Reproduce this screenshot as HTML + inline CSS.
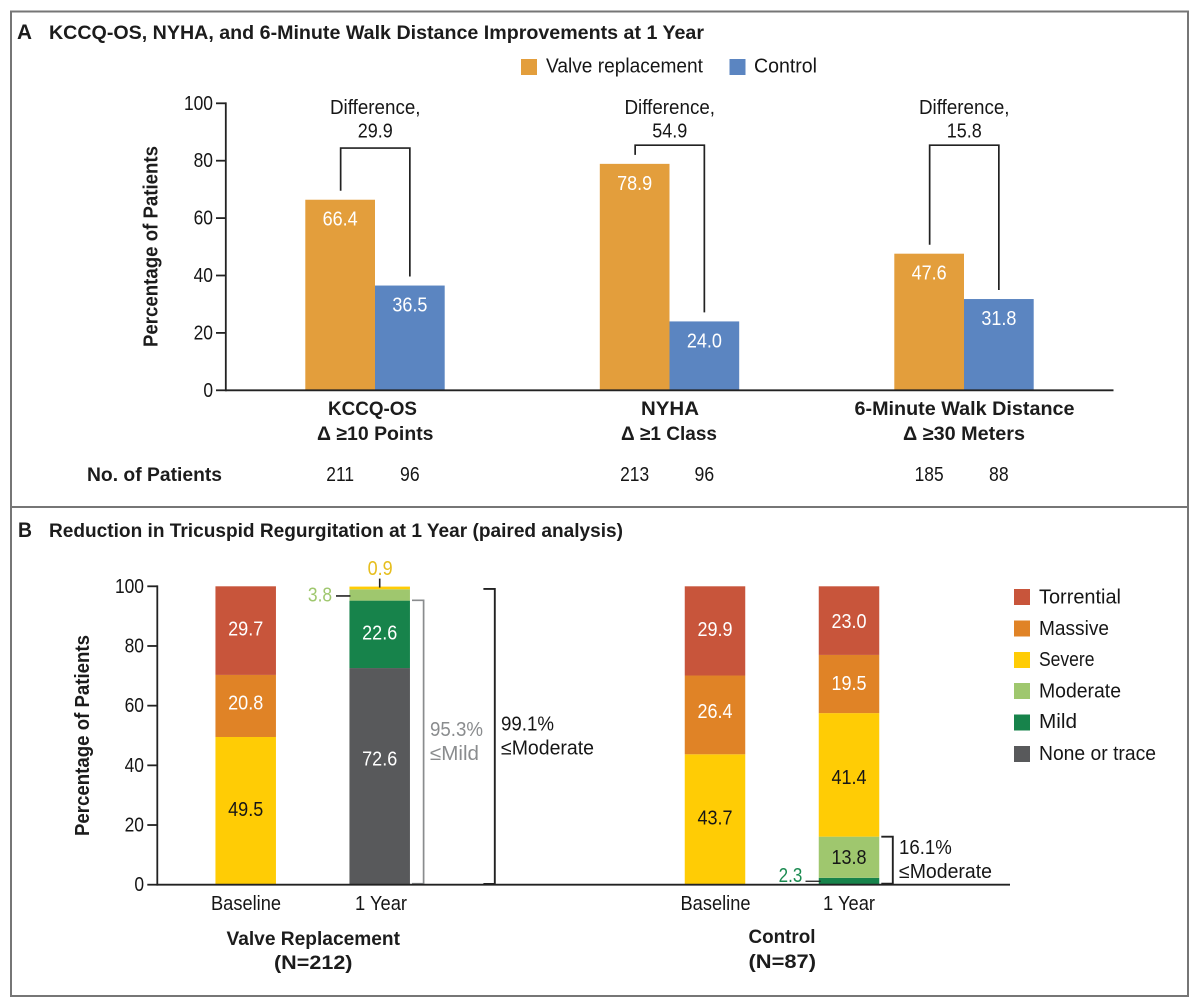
<!DOCTYPE html>
<html lang="en">
<head>
<meta charset="utf-8">
<title>KCCQ-OS, NYHA, 6-Minute Walk Distance and Tricuspid Regurgitation at 1 Year</title>
<style>
html,body{margin:0;padding:0;background:#fff;}
svg{display:block;}
text{font-family:"Liberation Sans","DejaVu Sans",sans-serif;font-size:20px;fill:#161616;}
.b{font-weight:bold;font-size:19.5px;fill:#1c1c1c;}
.yt{font-size:20.5px;}
</style>
</head>
<body>
<svg id="fig" xmlns="http://www.w3.org/2000/svg" width="1200" height="1007" viewBox="0 0 1200 1007">
  <rect x="0" y="0" width="1200" height="1007" fill="#fff"/>
  <rect x="11" y="11.5" width="1177" height="984.5" fill="none" stroke="#767676" stroke-width="2"/>
  <line x1="11" x2="1188" y1="507" y2="507" stroke="#767676" stroke-width="2"/>

  <!-- Panel A static text -->
  <text class="b" x="17" y="39" style="font-size:21px" textLength="15" lengthAdjust="spacingAndGlyphs">A</text>
  <text class="b" x="49" y="39" textLength="655" lengthAdjust="spacingAndGlyphs">KCCQ-OS, NYHA, and 6-Minute Walk Distance Improvements at 1 Year</text>
  <g>
    <rect x="521" y="59" width="16" height="16" fill="#E39E3C"/>
    <text x="546" y="72.5" textLength="157" lengthAdjust="spacingAndGlyphs">Valve replacement</text>
    <rect x="729.5" y="59" width="16" height="16" fill="#5B85C1"/>
    <text x="754" y="72.5" textLength="63" lengthAdjust="spacingAndGlyphs">Control</text>
  </g>
  <text class="b yt" transform="translate(157.5,347) rotate(-90)" x="0" y="0" textLength="201" lengthAdjust="spacingAndGlyphs">Percentage of Patients</text>
  <text class="b" x="328" y="415" textLength="89" lengthAdjust="spacingAndGlyphs">KCCQ-OS</text>
  <text class="b" x="317" y="440" textLength="116.5" lengthAdjust="spacingAndGlyphs">Δ ≥10 Points</text>
  <text class="b" x="641" y="415" textLength="58" lengthAdjust="spacingAndGlyphs">NYHA</text>
  <text class="b" x="621" y="440" textLength="96" lengthAdjust="spacingAndGlyphs">Δ ≥1 Class</text>
  <text class="b" x="854.5" y="415" textLength="220" lengthAdjust="spacingAndGlyphs">6-Minute Walk Distance</text>
  <text class="b" x="903" y="440" textLength="122" lengthAdjust="spacingAndGlyphs">Δ ≥30 Meters</text>
  <text class="b" x="87" y="481" textLength="135" lengthAdjust="spacingAndGlyphs">No. of Patients</text>

  <!-- Panel B static text -->
  <text class="b" x="18" y="537" style="font-size:21px" textLength="14" lengthAdjust="spacingAndGlyphs">B</text>
  <text class="b" x="49" y="537" textLength="574" lengthAdjust="spacingAndGlyphs">Reduction in Tricuspid Regurgitation at 1 Year (paired analysis)</text>
  <text class="b yt" transform="translate(89,836) rotate(-90)" x="0" y="0" textLength="201" lengthAdjust="spacingAndGlyphs">Percentage of Patients</text>
  <text x="211" y="910" textLength="70" lengthAdjust="spacingAndGlyphs">Baseline</text>
  <text x="355" y="910" textLength="52" lengthAdjust="spacingAndGlyphs">1 Year</text>
  <text x="680.5" y="910" textLength="70" lengthAdjust="spacingAndGlyphs">Baseline</text>
  <text x="823" y="910" textLength="52" lengthAdjust="spacingAndGlyphs">1 Year</text>
  <text class="b" x="226.5" y="945" textLength="173.5" lengthAdjust="spacingAndGlyphs">Valve Replacement</text>
  <text class="b" x="274" y="969" textLength="78.5" lengthAdjust="spacingAndGlyphs">(N=212)</text>
  <text class="b" x="748.5" y="943" textLength="67" lengthAdjust="spacingAndGlyphs">Control</text>
  <text class="b" x="748.5" y="968" textLength="67.5" lengthAdjust="spacingAndGlyphs">(N=87)</text>

  <g>
    <rect x="1014" y="589" width="16" height="16" fill="#C8553B"/>
    <text x="1039" y="603.5" textLength="82" lengthAdjust="spacingAndGlyphs">Torrential</text>
    <rect x="1014" y="620.5" width="16" height="16" fill="#E08326"/>
    <text x="1039" y="635" textLength="70" lengthAdjust="spacingAndGlyphs">Massive</text>
    <rect x="1014" y="652" width="16" height="16" fill="#FFCC05"/>
    <text x="1039" y="666" textLength="55.5" lengthAdjust="spacingAndGlyphs">Severe</text>
    <rect x="1014" y="683" width="16" height="16" fill="#9FC76E"/>
    <text x="1039" y="697.5" textLength="82" lengthAdjust="spacingAndGlyphs">Moderate</text>
    <rect x="1014" y="714.5" width="16" height="16" fill="#17834B"/>
    <text x="1039" y="728" textLength="38" lengthAdjust="spacingAndGlyphs">Mild</text>
    <rect x="1014" y="746" width="16" height="16" fill="#58595B"/>
    <text x="1039" y="760" textLength="117" lengthAdjust="spacingAndGlyphs">None or trace</text>
  </g>
  <g id="chartA"></g>
  <g id="chartB"></g>
</svg>
<script>
// Panel A data
const categories = ['kccq-os', 'nyha', 'walk-distance'];
const valveValues = [66.4, 78.9, 47.6];
const controlValues = [36.5, 24.0, 31.8];
const differences = [29.9, 54.9, 15.8];
const bracketLevels = [84.4, 85.4, 85.4];
const valvePatients = [211, 213, 185];
const controlPatients = [96, 96, 88];
const yTicks = [0, 20, 40, 60, 80, 100];

// Panel B data
const severityNames = ['none-or-trace', 'mild', 'moderate', 'severe', 'massive', 'torrential'];
const barNames = ['valve-baseline', 'valve-1-year', 'control-baseline', 'control-1-year'];
const noneOrTrace = [0, 72.6, 0, 0];
const mild = [0, 22.6, 0, 2.3];
const moderate = [0, 3.8, 0, 13.8];
const severe = [49.5, 0.9, 43.7, 41.4];
const massive = [20.8, 0, 26.4, 19.5];
const torrential = [29.7, 0, 29.9, 23.0];
const mildOrLessValve = 95.3;
const moderateOrLessValve = 99.1;
const moderateOrLessControl = 16.1;

const NS = 'http://www.w3.org/2000/svg';
const chartA = document.getElementById('chartA');
const chartB = document.getElementById('chartB');

function mk(parent, tag, name, attrs) {
  const el = document.createElementNS(NS, tag);
  
  
  for (const k in attrs) el.setAttribute(k, attrs[k]);
  parent.appendChild(el);
  return el;
}
function label(parent, name, str, x, y, fit, fill, anchor) {
  const el = mk(parent, 'text', name, {x: x, y: y, 'text-anchor': anchor || 'middle'});
  el.textContent = str;
  if (fill) el.style.fill = fill;
  const w = el.getComputedTextLength() * fit;
  el.setAttribute('textLength', w.toFixed(2));
  el.setAttribute('lengthAdjust', 'spacingAndGlyphs');
  return el;
}
function path(parent, name, d, stroke, width) {
  return mk(parent, 'path', name, {d: d, fill: 'none', stroke: stroke || '#222', 'stroke-width': width || 1.6});
}

/* ---------- Panel A ---------- */
const ax = {left: 225.8, right: 1113.5, base: 390.3, top: 103.3};
const yA = v => ax.base - v * (ax.base - ax.top) / 100;
const groupCenter = i => 375 + i * 294.5;
const barW = 69.7;
const ORANGE = '#E39E3C', BLUE = '#5B85C1';

categories.forEach((c, i) => {
  const cx = groupCenter(i);
  mk(chartA, 'rect', 'bar-valve-' + c, {x: cx - barW, y: yA(valveValues[i]), width: barW, height: ax.base - yA(valveValues[i]), fill: ORANGE});
  mk(chartA, 'rect', 'bar-control-' + c, {x: cx, y: yA(controlValues[i]), width: barW, height: ax.base - yA(controlValues[i]), fill: BLUE});
  label(chartA, 'value-valve-' + c, valveValues[i].toFixed(1), cx - barW / 2, yA(valveValues[i]) + 26, 0.90, '#fff');
  label(chartA, 'value-control-' + c, controlValues[i].toFixed(1), cx + barW / 2, yA(controlValues[i]) + 26, 0.90, '#fff');
  const lx = cx - barW / 2 + 0.5, rx = cx + barW / 2;
  const ty = yA(bracketLevels[i]);
  path(chartA, 'difference-bracket-' + c,
    'M' + lx + ' ' + (yA(valveValues[i]) - 9) + 'V' + ty + 'H' + rx + 'V' + (yA(controlValues[i]) - 9), '#222', 1.7);
  label(chartA, 'difference-caption-' + c, 'Difference,', (lx + rx) / 2, 114, 0.94);
  label(chartA, 'difference-value-' + c, differences[i].toFixed(1), (lx + rx) / 2, 137.3, 0.90);
  label(chartA, 'patients-valve-' + c, String(valvePatients[i]), cx - barW / 2, 481, 0.87);
  label(chartA, 'patients-control-' + c, String(controlPatients[i]), cx + barW / 2, 481, 0.88);
});
yTicks.forEach(t => {
  mk(chartA, 'line', 'y-tick-a-' + t, {x1: 216, x2: ax.left, y1: yA(t), y2: yA(t), stroke: '#222', 'stroke-width': 1.8});
  label(chartA, 'y-tick-label-a-' + t, String(t), 213, yA(t) + 6.5, 0.87, null, 'end');
});
mk(chartA, 'line', 'y-axis-a', {x1: ax.left, x2: ax.left, y1: ax.top - 0.9, y2: ax.base + 0.9, stroke: '#222', 'stroke-width': 1.8});
mk(chartA, 'line', 'x-axis-a', {x1: ax.left, x2: ax.right, y1: ax.base, y2: ax.base, stroke: '#222', 'stroke-width': 1.8});

/* ---------- Panel B ---------- */
const bx = {left: 157.3, right: 1010, base: 884.7, top: 586.3};
const yB = v => bx.base - v * (bx.base - bx.top) / 100;
const barCenter = i => 245.7 + Math.floor(i / 2) * 469.3 + (i % 2) * 134;
const stackW = 60.5;
const severitySeries = [noneOrTrace, mild, moderate, severe, massive, torrential];
const severityColors = ['#58595B', '#17834B', '#9FC76E', '#FFCC05', '#E08326', '#C8553B'];
const textColors = ['#fff', '#fff', '#161616', '#161616', '#fff', '#fff'];
const labelNudge = {'valve-1-year-none-or-trace': -15.7, 'control-1-year-severe': 4, 'control-1-year-torrential': 2.4, 'control-1-year-massive': 1, 'control-1-year-moderate': 1.8, 'control-baseline-massive': -2, 'valve-baseline-massive': -1.4};
const inlineMin = 5;

barNames.forEach((b, i) => {
  let acc = 0;
  severitySeries.forEach((series, s) => {
    const v = series[i];
    if (!v) return;
    const y0 = yB(acc + v), y1 = yB(acc);
    mk(chartB, 'rect', 'segment-' + b + '-' + severityNames[s], {x: barCenter(i) - stackW / 2, y: y0, width: stackW, height: y1 - y0, fill: severityColors[s]});
    if (v >= inlineMin) {
      const key = b + '-' + severityNames[s];
      label(chartB, 'segment-value-' + key, v.toFixed(1), barCenter(i), (y0 + y1) / 2 + 5 + (labelNudge[key] || 0), 0.90, textColors[s]);
    }
    acc += v;
  });
});

// call-outs for thin segments
const c1 = barCenter(1), c3 = barCenter(3);
const modBase = noneOrTrace[1] + mild[1];
const sevBase = modBase + moderate[1];
label(chartB, 'callout-value-severe-valve', severe[1].toFixed(1), c1 + 0.5, 575, 0.90, '#E6BE1E');
path(chartB, 'callout-leader-severe-valve', 'M' + c1 + ' ' + (yB(sevBase + severe[1]) - 8) + 'V' + (yB(sevBase + severe[1]) + 1), '#222', 1.6);
label(chartB, 'callout-value-moderate-valve', moderate[1].toFixed(1), 320, yB(modBase + moderate[1] / 2) + 6.5, 0.87, '#9FC76E');
path(chartB, 'callout-leader-moderate-valve', 'M336 ' + (yB(modBase + moderate[1] / 2) + 1) + 'H' + (c1 - stackW / 2 + 1), '#222', 1.6);
label(chartB, 'callout-value-mild-control', mild[3].toFixed(1), 790.5, yB(mild[3] / 2) + 0.7, 0.85, '#1A8A50');
path(chartB, 'callout-leader-mild-control', 'M805.5 ' + yB(mild[3] / 2) + 'H' + (c3 - stackW / 2 + 2), '#222', 1.3);

// range brackets
path(chartB, 'bracket-mild-or-less-valve', 'M412 ' + yB(mildOrLessValve) + 'H423.6V' + (bx.base - 1) + 'H412', '#8A8C8E', 1.7);
label(chartB, 'bracket-value-mild-or-less-valve', mildOrLessValve.toFixed(1) + '%', 430, 736, 0.935, '#8A8C8E', 'start');
const mildTxt = mk(chartB, 'text', 'bracket-caption-mild-or-less-valve', {x: 430, y: 760, textLength: 49, lengthAdjust: 'spacingAndGlyphs'});
mildTxt.textContent = '≤Mild';
mildTxt.style.fill = '#8A8C8E';

path(chartB, 'bracket-moderate-or-less-valve', 'M483.4 ' + yB(moderateOrLessValve) + 'H494.8V' + (bx.base - 0.7) + 'H483.4', '#222', 1.9);
label(chartB, 'bracket-value-moderate-or-less-valve', moderateOrLessValve.toFixed(1) + '%', 501, 730.7, 0.935, null, 'start');
const modTxtA = mk(chartB, 'text', 'bracket-caption-moderate-or-less-valve', {x: 501, y: 754.7, textLength: 93, lengthAdjust: 'spacingAndGlyphs'});
modTxtA.textContent = '≤Moderate';

path(chartB, 'bracket-moderate-or-less-control', 'M881.3 ' + yB(moderateOrLessControl) + 'H892.8V' + (bx.base - 1) + 'H881.3', '#222', 1.9);
label(chartB, 'bracket-value-moderate-or-less-control', moderateOrLessControl.toFixed(1) + '%', 899, 854, 0.93, null, 'start');
const modTxtB = mk(chartB, 'text', 'bracket-caption-moderate-or-less-control', {x: 899, y: 878, textLength: 93, lengthAdjust: 'spacingAndGlyphs'});
modTxtB.textContent = '≤Moderate';

yTicks.forEach(t => {
  mk(chartB, 'line', 'y-tick-b-' + t, {x1: 147.3, x2: bx.left, y1: yB(t), y2: yB(t), stroke: '#222', 'stroke-width': 1.8});
  label(chartB, 'y-tick-label-b-' + t, String(t), 144, yB(t) + 6.5, 0.87, null, 'end');
});
mk(chartB, 'line', 'y-axis-b', {x1: bx.left, x2: bx.left, y1: bx.top - 0.9, y2: bx.base + 0.9, stroke: '#222', 'stroke-width': 1.8});
mk(chartB, 'line', 'x-axis-b', {x1: bx.left, x2: bx.right, y1: bx.base, y2: bx.base, stroke: '#222', 'stroke-width': 1.8});
</script>
</body>
</html>
